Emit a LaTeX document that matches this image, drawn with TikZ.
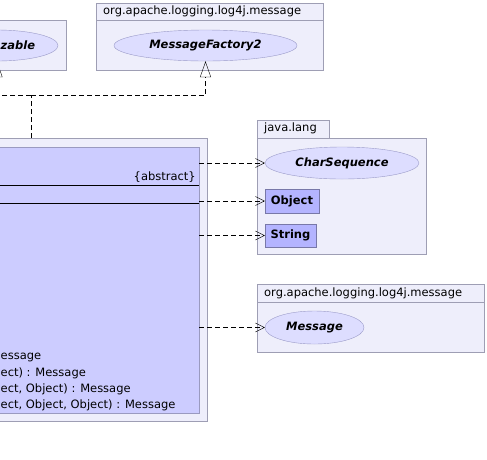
\documentclass[tikz,border=0pt]{standalone}
\usepackage{fontspec}
\setmainfont{DejaVu Sans}
\usetikzlibrary{arrows.meta,shapes.geometric}

\definecolor{pkgfill}{HTML}{EEEEFB}
\definecolor{pkgline}{HTML}{9E9EB4}
\definecolor{clsfill}{HTML}{CCCCFF}
\definecolor{clsline}{HTML}{9A9AC0}
\definecolor{ifcfill}{HTML}{DDDDFF}
\definecolor{ifcline}{HTML}{9A9AC8}
\definecolor{reffill}{HTML}{B4B4FF}
\definecolor{refline}{HTML}{7878A8}

\begin{document}
\begin{tikzpicture}[x=1pt,y=-1pt,font=\fontsize{11.5}{13}\selectfont,
    pkg/.style={draw=pkgline,fill=pkgfill,rectangle,anchor=north west,inner sep=0pt},
    pkgtab/.style={pkg,inner xsep=7pt,minimum height=18pt,align=left},
    iface/.style={ellipse,draw=ifcline,fill=ifcfill,inner sep=0pt,font=\fontsize{11.5}{13}\selectfont\bfseries\itshape},
    refbox/.style={draw=refline,fill=reffill,inner sep=0pt,minimum height=24pt,font=\fontsize{11.5}{13}\selectfont\bfseries},
    real/.style={draw,dash pattern=on 5pt off 3pt,-{Triangle[open,length=16pt,width=11pt]}},
    dep/.style={draw,dash pattern=on 5pt off 3pt,-{Straight Barb[length=9pt,width=9pt]}}]

      \useasboundingbox (0,0) rectangle (487,459);
      \clip (0,0) rectangle (487,459);

      \begin{scope}[every node/.style={pkg}]
        \node[minimum width=160pt,minimum height=50pt] (pser) at (-94,20) {};
        \node[minimum width=227pt,minimum height=67pt] (pmf) at (96,3) {};
        \node[minimum width=169pt,minimum height=116pt] (plang) at (257,138) {};
        \node[minimum width=227pt,minimum height=68pt] (pmsg) at (257,284) {};
        \node[minimum width=315pt,minimum height=283pt] (clspkg) at (-108,138) {};
      \end{scope}

      \begin{scope}[every node/.style={pkgtab}]
        \node[text width=213pt,minimum height=17pt] (pmftab) at (pmf.north west) {org.apache.logging.log4j.message};
        \node[text width=58pt,anchor=south west] (plangtab) at (plang.north west) {java.lang};
        \node[text width=213pt] (pmsgtab) at (pmsg.north west) {org.apache.logging.log4j.message};
      \end{scope}

      \node[draw=clsline,fill=clsfill,anchor=north west,inner sep=0pt,
        minimum width=299pt,minimum height=266pt] (cls) at (-100,147) {};
      \draw ([yshift=-38pt]cls.north west) -- ([yshift=-38pt]cls.north east);
      \draw ([yshift=-56pt]cls.north west) -- ([yshift=-56pt]cls.north east);

      \node[anchor=east,inner sep=0pt] (abs) at (196,177) {\{abstract\}};
      \begin{scope}[every node/.style={anchor=west,inner sep=0pt}]
        \node (op1) at (0.5,357) {essage};
        \node (op2) at (0.5,373) {ect) : Message};
        \node (op3) at (0.5,389) {ect, Object) : Message};
        \node (op4) at (0.5,405) {ect, Object, Object) : Message};
      \end{scope}

      \node[iface,minimum width=122pt,minimum height=31pt] (iser) at (-3,45.5) {};
      \node[anchor=west,inner sep=0pt,font=\fontsize{11.5}{13}\selectfont\bfseries\itshape] (iserlbl) at (0.5,45.5) {zable};
      \node[iface,minimum width=183pt,minimum height=31pt] (imf) at (205.5,45.5) {MessageFactory2};
      \node[iface,minimum width=154pt,minimum height=32pt] (ics) at (342,163) {CharSequence};
      \node[refbox,minimum width=54pt] (cobj) at (292,201) {Object};
      \node[refbox,minimum width=51pt,minimum height=23pt] (cstr) at (290.5,235.5) {String};
      \node[iface,minimum width=99pt,minimum height=33pt] (imsg) at (314.5,327.5) {Message};

      \coordinate (join) at (31,95);
      \draw[dash pattern=on 5pt off 3pt] (join |- clspkg.north) -- (join);
      \path[real] (join) -| (imf.south);
      \path[real] (join) -| (iser.south);

      \path[dep] (cls.east |- ics) -- (ics);
      \path[dep] (cls.east |- cobj) -- (cobj);
      \path[dep] (cls.east |- cstr) -- (cstr);
      \path[dep] (cls.east |- imsg) -- (imsg);

\end{tikzpicture}
\end{document}
